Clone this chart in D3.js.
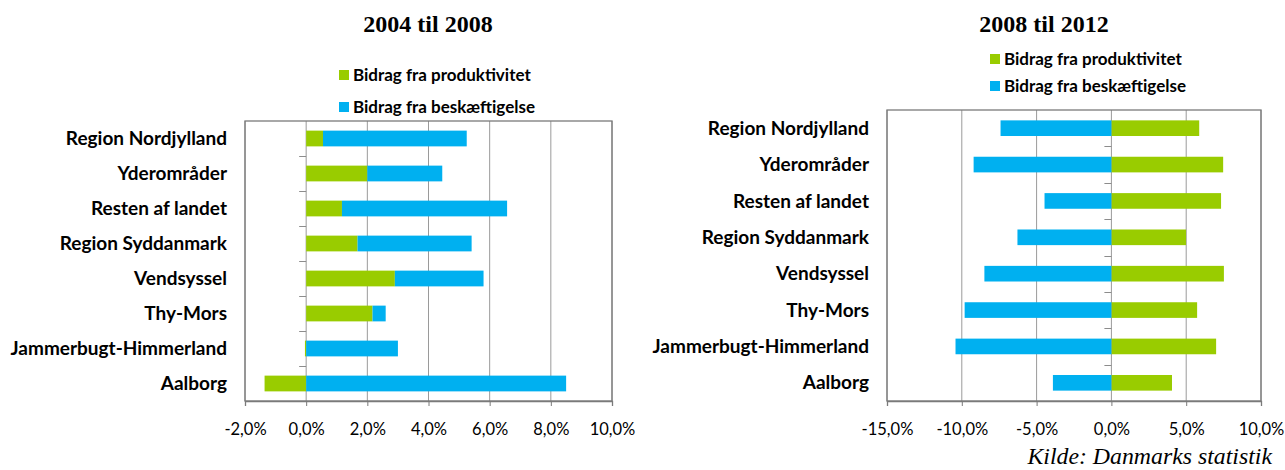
<!DOCTYPE html>
<html>
<head>
<meta charset="utf-8">
<script src="https://cdn.jsdelivr.net/npm/d3@7"></script>
<style>
  body { margin: 0; background: #fff; }
  svg { display: block; }
  .cat text { font-family: Lato, "Open Sans", sans-serif; font-weight: bold; font-size: 19px; fill: #000; }
  .xax text { font-family: Lato, "Open Sans", sans-serif; font-size: 16.5px; fill: #000; }
  .legend text { font-family: Lato, "Open Sans", sans-serif; font-weight: bold; font-size: 17px; fill: #000; }
  .title { font-family: "Liberation Serif", "DejaVu Serif", serif; font-weight: bold; font-size: 24px; }
  .source { font-family: "Liberation Serif", "DejaVu Serif", serif; font-style: italic; font-size: 23.8px; }
</style>
</head>
<body>
<script>
// regions, top to bottom
var categories = ["Region Nordjylland", "Yderområder", "Resten af landet", "Region Syddanmark",
                  "Vendsyssel", "Thy-Mors", "Jammerbugt-Himmerland", "Aalborg"];

// 2004 til 2008 (pct.)
var prod0408 = [0.55, 2.0, 1.17, 1.68, 2.9, 2.17, -0.04, -1.36];
var emp0408  = [4.7, 2.45, 5.4, 3.73, 2.9, 0.43, 3.0, 8.5];

// 2008 til 2012 (pct.)
var prod0812 = [5.87, 7.47, 7.33, 4.99, 7.52, 5.73, 7.0, 4.05];
var emp0812  = [-7.41, -9.21, -4.47, -6.28, -8.49, -9.81, -10.42, -3.91];

var ticks0408 = [-2, 0, 2, 4, 6, 8, 10];
var ticks0812 = [-15, -10, -5, 0, 5, 10];

var seriesNames = ["Bidrag fra produktivitet", "Bidrag fra beskæftigelse"];
var colors = {"Bidrag fra produktivitet": "#99cc00", "Bidrag fra beskæftigelse": "#00b0f0"};

var locale = d3.formatLocale({decimal: ",", thousands: ".", grouping: [3], currency: ["", " kr"], minus: "-"});
var fmt = locale.format(".1f");

var svg = d3.select("body").append("svg")
    .attr("width", 1285)
    .attr("height", 470);

function drawChart(o) {
    var rows = categories.map(function(c, i) {
        var r = {cat: c};
        r[seriesNames[0]] = o.prod[i];
        r[seriesNames[1]] = o.emp[i];
        return r;
    });
    var stacked = d3.stack().keys(seriesNames).offset(d3.stackOffsetDiverging)(rows);

    var x = d3.scaleLinear().domain(d3.extent(o.ticks)).range([o.left, o.right]);
    var y = d3.scaleBand().domain(categories).range([o.top, o.bottom]).padding(0);
    var barH = y.bandwidth() * o.barFrac;

    var g = svg.append("g");

    // gridlines
    g.selectAll(".grid").data(o.ticks).enter().append("line")
        .attr("x1", function(d) { return x(d); })
        .attr("x2", function(d) { return x(d); })
        .attr("y1", o.top).attr("y2", o.bottom)
        .attr("stroke", "#9a9a9a").attr("stroke-width", 1);

    // bars
    g.selectAll(".series").data(stacked).enter().append("g")
        .attr("fill", function(s) { return colors[s.key]; })
        .selectAll("rect").data(function(s) { return s; }).enter().append("rect")
        .attr("x", function(d) { return x(Math.min(d[0], d[1])); })
        .attr("width", function(d) { return Math.abs(x(d[1]) - x(d[0])); })
        .attr("y", function(d) { return y(d.data.cat) + (y.bandwidth() - barH) / 2; })
        .attr("height", barH);

    // category ticks on the zero line
    g.selectAll(".ctick").data(categories.slice(1)).enter().append("line")
        .attr("x1", x(0) - 7).attr("x2", x(0))
        .attr("y1", function(d) { return Math.round(y(d)) + 0.5; })
        .attr("y2", function(d) { return Math.round(y(d)) + 0.5; })
        .attr("stroke", "#8c8c8c");

    // plot frame
    g.append("rect")
        .attr("x", o.left).attr("y", o.top)
        .attr("width", o.right - o.left).attr("height", o.bottom - o.top)
        .attr("fill", "none").attr("stroke", "#7a7a7a").attr("stroke-width", 1.3);

    // x axis
    var xa = g.append("g").attr("class", "xax")
        .attr("transform", "translate(0," + o.bottom + ")")
        .call(d3.axisBottom(x).tickValues(o.ticks).tickSize(5)
            .tickFormat(function(d) { return fmt(d) + "%"; }));
    xa.select(".domain").attr("stroke", "#7a7a7a").attr("stroke-width", 1.3);
    xa.selectAll("line").attr("stroke", "#7a7a7a");
    xa.selectAll("text").attr("dy", null).attr("y", 34);

    // category labels
    var ya = g.append("g").attr("class", "cat")
        .attr("transform", "translate(" + o.labelX + ",0)")
        .call(d3.axisLeft(y).tickSize(0).tickPadding(0));
    ya.select(".domain").remove();
    ya.selectAll("text").attr("dy", "0.35em");

    // title
    g.append("text").attr("class", "title")
        .attr("x", o.titleX).attr("y", 32)
        .attr("text-anchor", "middle")
        .text(o.title);

    // legend
    var lg = g.append("g").attr("class", "legend");
    var items = lg.selectAll("g").data(o.legendOrder).enter().append("g")
        .attr("transform", function(d, i) { return "translate(" + o.legX + "," + o.legY[i] + ")"; });
    items.append("rect")
        .attr("x", 0).attr("y", -11).attr("width", 10).attr("height", 10)
        .attr("fill", function(d) { return colors[d]; });
    items.append("text")
        .attr("x", 14).attr("y", 0)
        .text(function(d) { return d; });
}

drawChart({
    title: "2004 til 2008", titleX: 428,
    prod: prod0408, emp: emp0408, ticks: ticks0408,
    left: 245, right: 612, top: 121, bottom: 401,
    labelX: 227, barFrac: 0.45,
    legX: 339, legY: [81, 113], legendOrder: seriesNames
});

drawChart({
    title: "2008 til 2012", titleX: 1044,
    prod: prod0812, emp: emp0812, ticks: ticks0812,
    left: 887, right: 1261, top: 110, bottom: 401,
    labelX: 869, barFrac: 0.43,
    legX: 990, legY: [65, 92], legendOrder: seriesNames
});

svg.append("text").attr("class", "source")
    .attr("x", 1272).attr("y", 464)
    .attr("text-anchor", "end")
    .text("Kilde: Danmarks statistik");
</script>
</body>
</html>
